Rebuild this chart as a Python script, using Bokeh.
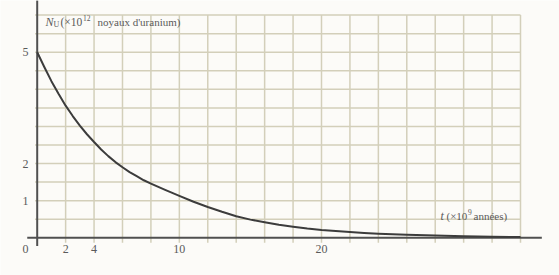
from bokeh.plotting import figure
from bokeh.models import Range1d
from bokeh.core.properties import value
from bokeh.embed import file_html
from bokeh.resources import INLINE

# ---- data ----
t_values = [0, 0.5, 1, 1.5, 2, 2.5, 3, 3.5, 4, 4.5, 5, 5.5, 6, 6.5, 7, 7.5,
            8, 9, 10, 11, 12, 13, 14, 15, 16, 17, 18, 19, 20, 21, 22, 23,
            24, 25, 26, 28, 30, 32, 34]
n_values = [5.0, 4.6, 4.22, 3.88, 3.56, 3.28, 3.02, 2.79, 2.58, 2.38, 2.2,
            2.04, 1.9, 1.77, 1.66, 1.55, 1.46, 1.29, 1.13, 0.97, 0.83, 0.70,
            0.58, 0.49, 0.42, 0.35, 0.30, 0.25, 0.21, 0.18, 0.155, 0.13,
            0.11, 0.095, 0.08, 0.06, 0.04, 0.03, 0.02]
x_tick_values = [2, 4, 10, 20]
x_tick_labels = ["2", "4", "10", "20"]
y_tick_values = [1, 2, 5]
y_tick_labels = ["1", "2", "5"]
grid_x = [2, 4, 6, 8, 10, 12, 14, 16, 18, 20, 22, 24, 26, 28, 30, 32, 34]
grid_y = [0.5, 1, 1.5, 2, 2.5, 3, 3.5, 4, 4.5, 5, 5.5, 6]

W, H = 559, 275
PX_X = 14.215   # px per x unit
PX_Y = 37.12    # px per y unit
X0_PX, Y0_PX = 36.7, 237.3

p = figure(width=W, height=H, output_backend="svg", toolbar_location=None,
           x_range=Range1d(-X0_PX / PX_X, (W - X0_PX) / PX_X),
           y_range=Range1d(-(H - Y0_PX) / PX_Y, Y0_PX / PX_Y),
           min_border=0, min_border_left=0, min_border_right=0,
           min_border_top=0, min_border_bottom=0)
p.axis.visible = False
p.grid.visible = False
p.outline_line_color = None
p.background_fill_color = "#fcfbf8"
p.border_fill_color = "#fcfbf8"

grid_col = "#d3cfba"
# vertical grid lines (with small tick below axis)
p.segment(x0=grid_x, y0=[-0.13] * len(grid_x), x1=grid_x, y1=[6.0] * len(grid_x),
          line_color=grid_col, line_width=1.5)
# horizontal grid lines
p.segment(x0=[-0.15] * len(grid_y), y0=grid_y, x1=[34] * len(grid_y), y1=grid_y,
          line_color=grid_col, line_width=1.5)

# axes
axis_col = "#505050"
p.segment(x0=[-0.7], y0=[0], x1=[35.5], y1=[0], line_color=axis_col, line_width=2)
p.segment(x0=[0], y0=[-0.22], x1=[0], y1=[6.4], line_color=axis_col, line_width=2)

# curve
p.line(t_values, n_values, line_color="#3c3c3c", line_width=2,
       line_join="round")

font = value("Liberation Serif")
lab_col = "#5a5a5a"
# tick labels
p.text(x=x_tick_values, y=[-0.3] * len(x_tick_values), text=x_tick_labels,
       text_font=font, text_font_size="12px", text_color=lab_col,
       text_align="center", text_baseline="middle")
p.text(x=[-0.82] * len(y_tick_values), y=y_tick_values, text=y_tick_labels,
       text_font=font, text_font_size="12px", text_color=lab_col,
       text_align="center", text_baseline="middle")
p.text(x=[-0.82], y=[-0.3], text=["0"], text_font=font, text_font_size="12px",
       text_color=lab_col, text_align="center", text_baseline="middle")

# y-axis title: N_U (×10^12 noyaux d'uranium)
ty_x = (45 - X0_PX) / PX_X
ty_y = (Y0_PX - 21) / PX_Y
p.text(x=[ty_x], y=[ty_y], text=["N"], text_font=font, text_font_style="italic",
       text_font_size="12px", text_color=lab_col, text_baseline="middle")
p.text(x=[ty_x], y=[ty_y], text=["U"], x_offset=8, y_offset=3, text_font=font,
       text_font_size="8px", text_color=lab_col, text_baseline="middle")
p.text(x=[ty_x], y=[ty_y], text=["(×10"], x_offset=15, text_font=font,
       text_font_size="11.5px", text_color=lab_col, text_baseline="middle")
p.text(x=[ty_x], y=[ty_y], text=["12"], x_offset=37.5, y_offset=-4, text_font=font,
       text_font_size="7.5px", text_color=lab_col, text_baseline="middle")
p.text(x=[ty_x], y=[ty_y], text=["noyaux d'uranium)"], x_offset=52, text_font=font,
       text_font_size="11px", text_color=lab_col, text_baseline="middle")

# x-axis title: t (×10^9 années)
tx_x = (440 - X0_PX) / PX_X
tx_y = (Y0_PX - 215) / PX_Y
p.text(x=[tx_x], y=[tx_y], text=["t"], text_font=font, text_font_style="italic",
       text_font_size="12px", text_color=lab_col, text_baseline="middle")
p.text(x=[tx_x], y=[tx_y], text=["(×10"], x_offset=6, text_font=font,
       text_font_size="11px", text_color=lab_col, text_baseline="middle")
p.text(x=[tx_x], y=[tx_y], text=["9"], x_offset=27.5, y_offset=-4, text_font=font,
       text_font_size="7.5px", text_color=lab_col, text_baseline="middle")
p.text(x=[tx_x], y=[tx_y], text=["années)"], x_offset=33, text_font=font,
       text_font_size="11px", text_color=lab_col, text_baseline="middle")

open("out.html", "w").write(file_html(p, INLINE))
